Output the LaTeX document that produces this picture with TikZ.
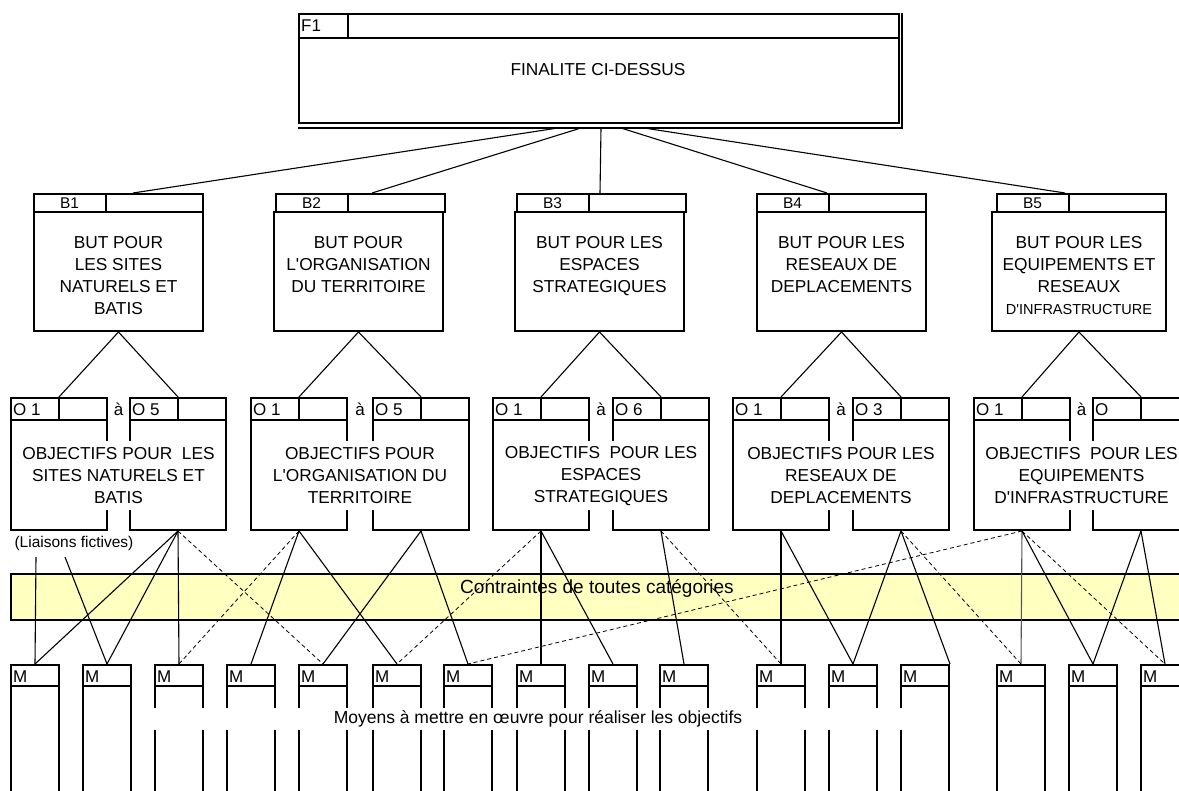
\documentclass[tikz,border=0pt]{standalone}
\usepackage{fontspec}
\setmainfont{Liberation Sans}
\usetikzlibrary{calc}
\definecolor{bandyellow}{HTML}{FFFFC0}
\definecolor{linegray}{HTML}{555555}
\begin{document}
\begin{tikzpicture}[x=1pt,y=-1pt,
  bx/.style={draw, line width=2pt, inner sep=0pt, anchor=north west},
  conn/.style={line width=1.1pt},
  fict/.style={line width=0.8pt, dash pattern=on 4pt off 3pt},
  lbl/.style={font=\fontsize{17}{22}\selectfont, inner sep=0pt},
  btxt/.style={font=\fontsize{17.3}{22}\selectfont, align=center, inner sep=2pt},
  otxt/.style={font=\fontsize{17.3}{22}\selectfont, align=center, inner sep=2pt, fill=white, minimum height=69pt},
]
\useasboundingbox (0,0) rectangle (1179,791);
\clip (0,0) rectangle (1179,791);
\fill[white] (0,0) rectangle (1179,791);

% ---- constraints band
\node[bx, fill=bandyellow, minimum width=1180pt, minimum height=46pt] (band) at (10,573) {};
\node[font=\fontsize{19}{22}\selectfont, inner sep=0pt] (bandtxt) at (597,588) {Contraintes de toutes catégories};

% ---- F1
\node[bx, minimum width=600pt, minimum height=24pt] (f1h) at (298,13) {};
\node[bx, minimum width=600pt, minimum height=85pt] (f1) at (298,37) {};
\draw[line width=2pt] (f1h.north west) ++(50,0) -- ++(0,24);
\draw[line width=1.4pt] ($(f1.south west)+(0,4)$) -- ($(f1.south east)+(2,4)$) -- ($(f1h.north east)+(2,0)$);
\node[lbl, anchor=west] (f1lbl) at ($(f1h.west)+(3,0)$) {F1};
\node[btxt] (f1t) at (598,70) {FINALITE CI-DESSUS};

% ---- B boxes
\foreach \x/\hx/\w [count=\i] in {33/33/169, 273/275/169, 514/516/169, 756/756/169, 991/996/174}{
  \node[bx, minimum width=169pt, minimum height=18pt] (bh\i) at (\hx,193) {};
  \node[bx, minimum width=\w pt, minimum height=119pt] (b\i) at (\x,211) {};
  \draw[line width=2pt] (bh\i.north west) ++(73,0) -- ++(0,18);
  \node[font=\fontsize{15.5}{16}\selectfont, inner sep=0pt] (bl\i) at ($(bh\i.west)+(36.5,0.5)$) {B\i};
}
\node[btxt, anchor=north] (bt1) at ($(b1.north)+(0,23)$) {BUT POUR\\LES SITES\\NATURELS ET\\BATIS};
\node[btxt, anchor=north] (bt2) at ($(b2.north)+(0,23)$) {BUT POUR\\L\textquotesingle ORGANISATION\\DU TERRITOIRE};
\node[btxt, anchor=north] (bt3) at ($(b3.north)+(0,23)$) {BUT POUR LES\\ESPACES\\STRATEGIQUES};
\node[btxt, anchor=north] (bt4) at ($(b4.north)+(0,23)$) {BUT POUR LES\\RESEAUX DE\\DEPLACEMENTS};
\node[btxt, anchor=north] (bt5) at ($(b5.north)+(0,23)$) {BUT POUR LES\\EQUIPEMENTS ET\\RESEAUX\\{\fontsize{14.5}{22}\selectfont D\textquotesingle INFRASTRUCTURE}};

% ---- F1 to B
\draw[conn] ($(f1.south)+(-41,4)$) -- ($(bh1.north west)+(100,0)$);
\draw[conn] ($(f1.south)+(-18,4)$) -- ($(bh2.north west)+(97,0)$);
\draw[conn] ($(f1.south)+(2,4)$) -- ($(bh3.north west)+(84,0)$);
\draw[conn] ($(f1.south)+(22,4)$) -- ($(bh4.north west)+(71,0)$);
\draw[conn] ($(f1.south)+(45,4)$) -- ($(bh5.north west)+(69,0)$);

% ---- O boxes
\foreach \a/\b/\la/\lb [count=\g] in {10/129/O 1/O 5, 250/372/O 1/O 5, 492/612/O 1/O 6, 732/852/O 1/O 3, 973/1092/O 1/O}{
  \node[bx, minimum width=96pt, minimum height=22pt] (oh\g1) at (\a,397) {};
  \node[bx, minimum width=96pt, minimum height=110pt] (o\g1) at (\a,419) {};
  \node[bx, minimum width=96pt, minimum height=22pt] (oh\g2) at (\b,397) {};
  \node[bx, minimum width=96pt, minimum height=110pt] (o\g2) at (\b,419) {};
  \draw[line width=2pt] (oh\g1.north) -- (oh\g1.south);
  \draw[line width=2pt] (oh\g2.north) -- (oh\g2.south);
  \node[lbl, anchor=west] (ol\g1) at ($(oh\g1.west)+(3,0.5)$) {\la};
  \node[lbl, anchor=west] (ol\g2) at ($(oh\g2.west)+(3,0.5)$) {\lb};
  \node[lbl] (oa\g) at ($(oh\g1.east)!0.5!(oh\g2.west)+(0,0)$) {à};
  \draw[conn] (b\g.south) -- (oh\g1.north);
  \draw[conn] (b\g.south) -- (oh\g2.north);
}
\node[otxt] (ot1) at ($(o11.center)!0.5!(o12.center)+(0,1)$) {OBJECTIFS POUR \ LES\\SITES NATURELS ET\\BATIS};
\node[otxt] (ot2) at ($(o21.center)!0.5!(o22.center)+(0,1)$) {OBJECTIFS POUR\\L\textquotesingle ORGANISATION DU\\TERRITOIRE};
\node[otxt] (ot3) at ($(o31.center)!0.5!(o32.center)+(0,1)$) {OBJECTIFS \ POUR LES\\ESPACES\\STRATEGIQUES};
\node[otxt] (ot4) at ($(o41.center)!0.5!(o42.center)+(0,1)$) {OBJECTIFS POUR LES\\RESEAUX DE\\DEPLACEMENTS};
\node[otxt] (ot5) at ($(o51.center)!0.5!(o52.center)+(0,1)$) {OBJECTIFS \ POUR LES\\EQUIPEMENTS\\D\textquotesingle INFRASTRUCTURE};

% ---- M boxes
\foreach \x [count=\i] in {10,82,154,226,298,372,443,516,588,659,756,828,900,996,1068,1140}{
  \node[bx, minimum width=48pt, minimum height=21pt] (mh\i) at (\x,664) {};
  \node[bx, minimum width=48pt, minimum height=160pt] (m\i) at (\x,685) {};
  \node[lbl, anchor=west] (ml\i) at ($(mh\i.west)+(3,1)$) {M};
}
\node[font=\fontsize{17.5}{22}\selectfont, fill=white, inner sep=0pt, minimum width=785pt, minimum height=22pt] (moy) at (538,719) {Moyens à mettre en œuvre pour réaliser les objectifs};

% ---- fictive links label
\node[font=\fontsize{15.5}{18}\selectfont, inner sep=0pt] (liais) at (74,543) {(Liaisons fictives)};
\coordinate (lf1) at (36,557);
\coordinate (lf2) at (65,557);
\draw[conn] (lf1) -- (mh1.north);
\draw[conn] (lf2) -- (mh2.north);

% ---- O to M, solid
\draw[conn] (o12.south) -- (mh1.north);
\draw[conn] (o12.south) -- (mh2.north);
\draw[conn] (o12.south) -- (mh3.north);
\draw[conn] (o21.south) -- (mh4.north);
\draw[conn] (o21.south) -- (mh6.north);
\draw[conn] (o22.south) -- (mh5.north);
\draw[conn] (o22.south) -- (mh7.north);
\draw[conn] (o31.south) -- (mh8.north);
\draw[conn] (o31.south) -- (mh9.north);
\draw[conn] (o32.south) -- (mh10.north);
\draw[conn] (o41.south) -- (mh11.north);
\draw[conn] (o41.south) -- (mh12.north);
\draw[conn] (o42.south) -- (mh12.north);
\draw[conn] (o42.south) -- (mh13.north east);
\draw[conn, linegray] (o51.south) -- (mh14.north);
\draw[conn] (o51.south) -- (mh15.north);
\draw[conn] (o52.south) -- (mh15.north);
\draw[conn] (o52.south) -- (mh16.north);

% ---- O to M, dashed
\draw[fict] (o12.south) -- (mh5.north);
\draw[fict] (o21.south) -- (mh3.north);
\draw[fict] (o31.south) -- (mh6.north);
\draw[fict] (o32.south) -- (mh11.north);
\draw[fict] (o42.south) -- (mh14.north);
\draw[fict] (o51.south) -- (mh16.north);
\draw[fict] (o51.south) -- (mh7.north);
\end{tikzpicture}
\end{document}
